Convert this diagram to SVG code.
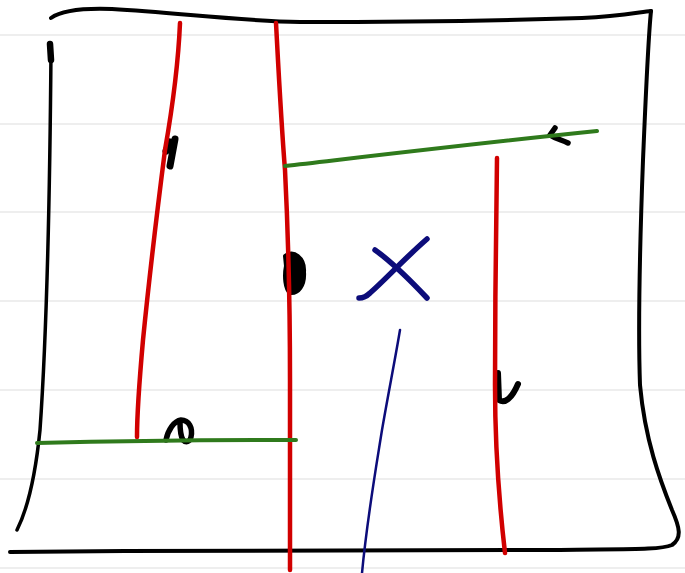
<svg xmlns="http://www.w3.org/2000/svg" width="685" height="573" viewBox="0 0 685 573">
<style>
.grid{stroke:#eeeeee;stroke-width:2;fill:none}
.ink{fill:none;stroke-linecap:round;stroke-linejoin:round}
.blk{stroke:#000;stroke-width:4}
.mark{stroke:#000;stroke-width:7}
.red{stroke:#d10000;stroke-width:4.5}
.grn{stroke:#2f7a1c;stroke-width:4}
.blu{stroke:#0c0c7a}
</style>
<rect width="685" height="573" fill="#fff"/>
<g id="ruling">
<line class="grid" x1="0" y1="35" x2="685" y2="35"/>
<line class="grid" x1="0" y1="124" x2="685" y2="124"/>
<line class="grid" x1="0" y1="212" x2="685" y2="212"/>
<line class="grid" x1="0" y1="301" x2="685" y2="301"/>
<line class="grid" x1="0" y1="390" x2="685" y2="390"/>
<line class="grid" x1="0" y1="479" x2="685" y2="479"/>
<line class="grid" x1="0" y1="568" x2="685" y2="568"/>
</g>
<g id="frame" class="ink blk">
<path d="M51,18 C62,10 85,8 112,9 C180,13 240,21 300,22 C420,22 520,20 582,18 C620,16 640,12 651,11"/>
<path d="M651,11 C648,40 646,90 643,160 C640,240 638,330 640,385 C645,440 660,480 672,510 C680,528 682,538 672,545 C660,550 630,549 560,550 C400,550 200,550 10,552"/>
<path d="M51,50 C50,180 47,330 40,430 C35,480 27,510 17,530" stroke-width="3.5"/>
<path d="M50,44 L51,60" stroke-width="6.5"/>
</g>
<g id="marks" class="ink mark">
<path d="M175,139 L170,166 M166,151 L170,142"/>
<path d="M285,256 C293,249 305,258 304,272 C305,286 298,294 290,293 C285,289 284,276 286,266 Z" fill="#000" stroke-width="4"/>
<path d="M166,440 C168,430 174,421 181,420 C189,420 193,428 191,437 C190,442 186,443 183,440 C180,435 180,428 180,422" stroke-width="5.5"/>
<path d="M498,373 L499,400 C505,404 512,398 518,384" stroke-width="6"/>
<path d="M555,128 L550,135 C556,139 562,140 568,143" stroke-width="5.5"/>
</g>
<g id="connectors" class="ink">
<path class="red" d="M180,23 C178,70 172,110 165,150 C156,220 148,290 143,340 C139,385 137,415 137,437"/>
<path class="red" d="M276,23 C278,60 281,120 285,170 C288,230 290,300 290,380 C290,460 290,520 290,570"/>
<path class="red" d="M497,158 C496,230 495,310 495,385 C495,450 500,510 505,553"/>
<path class="grn" d="M285,166 C380,155 480,143 597,131"/>
<path class="grn" d="M37,443 C120,441 210,440 296,440"/>
<path class="blu" d="M400,330 C395,360 388,395 382,430 C374,480 367,520 362,573" stroke-width="2.5"/>
</g>
<g id="cross" class="ink blu" stroke-width="5.5">
<path d="M375,250 C392,262 410,280 427,298"/>
<path d="M427,239 C405,258 385,280 370,293 C366,297 362,298 359,298"/>
</g>
</svg>
